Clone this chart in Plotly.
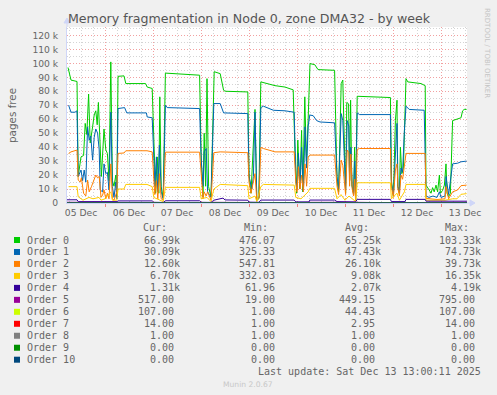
import plotly.graph_objects as go
import pandas as pd

# ---------------- data (hours since 05 Dec 2025 00:00, values in thousands of pages) ----------------
t0 = [5.5, 7, 10, 10.6, 12, 13.3, 14.1, 14.9, 15.8, 16.6,
      17.8, 18.6, 19.4, 20.1, 20.7, 21.5, 22.2, 23.5, 24.4, 25.2,
      26, 26.9, 27.7, 28.5, 29.4, 29.9, 30.5, 33.5, 34.4, 44.3,
      45.1, 47.6, 48.4, 49.3, 50.1, 50.9, 51.4, 52.1, 53.1, 54.2,
      71.3, 72.1, 73, 73.6, 74.3, 75, 75.8, 77, 78.6, 81.6,
      83.3, 84.1, 95.4, 96, 97, 98, 99, 99.9, 100.9, 101.9,
      109, 114, 118.1, 119, 119.8, 120.4, 121.4, 122.3, 122.9, 123.9,
      124.7, 125.5, 126.5, 128.9, 130.5, 138.8, 140, 140.8, 142.1, 142.9,
      143.8, 144.3, 144.9, 145.8, 146.3, 146.8, 147.4, 148.3, 148.8, 149.3,
      150.1, 166.7, 167.2, 168.2, 169.2, 170, 170.3, 171.2, 171.7, 172.4,
      173.2, 173.7, 174.5, 175.4, 182, 184.1, 184.5, 186.1, 187, 187.8,
      188.6, 189.5, 190.3, 191.2, 191.7, 192.8, 193.7, 194.5, 195, 195.8,
      196.7, 197.8, 200.3, 202, 202.8, 203.6, 204.8]
order0 = [97, 88, 87, 19, 33, 34, 57, 49, 78, 43,
          54.5, 63, 66, 56, 72, 45, 19, 53, 38, 35.5,
          16, 101, 16, 12, 20, 4.5, 90.7, 91, 85.5, 85.5,
          83, 82, 38, 7, 33, 7, 76, 11.7, 3.5, 93,
          91.5, 33, 4.5, 50, 12, 89, 11.7, 4.5, 94, 92.6,
          80.7, 80, 79.5, 21, 7, 40, 67, 2, 3, 86.7,
          84, 83, 81, 35.6, 7, 45, 10, 52, 8, 76,
          30, 57, 99.8, 99, 95.5, 95, 16.4, 8, 85.5, 88,
          20, 7, 72, 71, 16, 73.6, 13, 7, 40, 2,
          76.4, 75.5, 16.4, 4.5, 59, 73.6, 12, 7, 40, 21,
          25, 59, 89, 86.7, 85.5, 84, 12.8, 9.3, 7, 11,
          8, 12.8, 8, 20, 7, 9, 12.8, 28, 7, 4.5,
          7, 59, 60, 61, 66, 67, 67]

t1 = [5.8, 7, 9, 10, 10.6, 12, 12.8, 13.6, 14.4, 15.3,
      16.1, 16.9, 17.8, 18.6, 19.4, 20.3, 21.1, 21.6, 22.8, 23.5,
      24.4, 25.2, 26, 26.9, 27.7, 28.5, 29.4, 29.9, 30.5, 32.7,
      33.8, 34.9, 44.7, 45.1, 47.6, 48.4, 48.9, 49.7, 50.4, 51.2,
      52.1, 53.1, 54.2, 55.1, 71.3, 72.1, 73, 73.6, 74.6, 75.3,
      77, 78.4, 81.6, 83.3, 95.4, 96, 97.4, 98.2, 99, 99.9,
      101, 101.9, 103.2, 108.2, 114, 118.6, 119.4, 120, 120.7, 121.5,
      122.3, 123.2, 124, 124.8, 125.6, 126.4, 128.1, 129.8, 131.5, 138.8,
      140, 140.8, 142.1, 142.9, 143.8, 144.3, 145.1, 145.9, 146.3, 146.9,
      147.6, 148.3, 148.8, 149.3, 150.1, 151.3, 166.7, 167.2, 168.2, 169.2,
      170, 170.5, 171.2, 172, 172.8, 173.7, 174.5, 176.1, 183.6, 184.5,
      186, 188, 190, 191.2, 192, 194, 194.5, 195.8, 197.8, 200.3,
      202, 204.8]
order1 = [70, 65, 65, 66, 19, 23.6, 16, 23.6, 15, 54.5,
          45, 48, 30.7, 47, 53, 50, 38, 9.3, 8, 28,
          21, 22, 9.3, 65, 11.7, 4, 15, 3, 67.6, 68.3,
          68.3, 64.5, 64.5, 61.6, 61, 33, 12, 33, 8, 41.4,
          8, 3, 70, 68.3, 67.6, 30.7, 12, 36.6, 39, 8,
          4, 71.2, 71.2, 64.5, 64, 19, 10, 19, 65, 2,
          3.5, 68.3, 69.3, 66.4, 66, 65, 19, 10, 35.5, 12,
          40, 8, 54.5, 25, 55, 63, 62.5, 59, 58, 57.4,
          19, 10, 64, 59, 16, 10, 59, 55, 16, 40,
          12, 6, 30, 3, 64.5, 63.3, 63.3, 14, 6, 30,
          57, 12, 8, 25, 22, 52, 69.3, 67, 66.4, 5,
          4, 5, 4, 8, 4, 5, 19, 6, 28, 28.5,
          29.5, 30]

t2 = [5.8, 7, 10, 10.6, 11.6, 12.2, 13.3, 14.4, 15.3, 16.1,
      17.3, 18.6, 19.4, 20.3, 21.1, 22, 22.8, 23.5, 24.4, 25.2,
      26, 26.9, 27.7, 28.5, 29.9, 30.5, 33.5, 34.4, 45, 47.6,
      48.4, 48.9, 49.7, 50.4, 51.2, 52.1, 53.1, 54.2, 71.3, 72.1,
      73, 73.6, 74.6, 75.3, 77, 78.4, 81.6, 95.4, 96, 97,
      98, 99, 99.9, 101, 101.9, 103.2, 109, 118.6, 119.4, 120,
      120.7, 121.5, 122.3, 123.2, 124, 124.8, 125.6, 126.4, 138.8, 140,
      140.8, 142.1, 142.9, 143.8, 144.3, 145.1, 145.9, 146.3, 146.9, 147.6,
      148.3, 148.8, 149.3, 150.1, 151.3, 166.7, 167.2, 168.2, 169.2, 170,
      170.5, 171.2, 172, 172.8, 173.7, 174.5, 184.1, 184.5, 190, 194,
      194.5, 195.8, 197.8, 200.3, 202, 204.8]
order2 = [35.5, 36.6, 37.9, 16.4, 15, 18, 7, 5, 16.4, 8,
          12, 16.4, 20, 18, 19, 4, 5.7, 9.3, 3, 7,
          3, 28, 3, 2, 8, 35.5, 35.8, 37.4, 37.4, 36.6,
          18, 6, 16, 3, 21, 3, 2, 36.4, 36.4, 18,
          3, 8, 5, 8, 2, 36, 36.6, 36, 15, 7,
          13, 21, 2, 3.5, 39.8, 39, 36.6, 36.6, 15, 8,
          26, 10, 20, 8, 28, 12, 33, 34.3, 34.3, 12,
          6, 30.7, 27, 10, 6, 37.9, 36, 12, 35, 10,
          5, 17, 2, 38.4, 39, 39, 12, 4, 23.6, 28,
          10, 5, 20, 17, 28, 35.5, 35.5, 3.3, 2.5, 3,
          11.7, 3, 8, 9.3, 12.4, 12.8]

t3 = [5.8, 10, 10.6, 13, 16, 18, 21, 22, 24, 26.9,
      27.7, 29.9, 30.5, 33.5, 34.4, 45, 47.6, 48.4, 53.1, 54.2,
      71.3, 72.1, 75, 77, 78.4, 81.6, 95.4, 96, 99, 99.9,
      101.9, 103.2, 118.6, 119.4, 122, 124, 125.6, 126.4, 138.8, 140,
      142, 144, 146, 149.3, 150.1, 166.7, 167.2, 170, 171.2, 173.7,
      174.5, 184.1, 184.5, 194, 197.8, 200, 202, 204.8]
order3 = [11.7, 11.7, 4.5, 2, 4, 3, 4, 2, 3, 8,
          2, 2, 10, 10, 13.3, 13.3, 11.7, 4, 1, 11.2,
          11.2, 3, 4, 1, 10, 13.3, 12.4, 3, 5, 1,
          11.7, 13.3, 12.8, 4, 3, 6, 8, 10.5, 10.5, 3,
          6, 2, 5, 1, 14.5, 14.5, 3, 7, 2, 8,
          13.3, 13.3, 2, 2, 3, 3, 6.2, 6.7]

t4 = [5, 10, 10.6, 20, 30, 30.5, 47.6, 48.4, 53.1, 54.2,
      71.3, 72.1, 77, 78.4, 83, 84, 95.4, 96, 101, 101.9,
      118.6, 119.4, 126, 126.4, 138.8, 140, 149.3, 150.1, 166.7, 167.2,
      174, 174.5, 184.1, 184.5, 205]
order4 = [2.3, 2.3, 1.0, 0.8, 1.0, 1.5, 1.5, 0.5, 0.4, 1.6,
          1.6, 0.5, 0.4, 2.0, 3.5, 2.2, 2.0, 0.6, 0.5, 2.1,
          2.1, 0.8, 0.8, 2.1, 2.1, 1.0, 0.8, 2.6, 2.6, 1.0,
          1.0, 2.6, 2.6, 1.3, 1.3]

t5 = [5, 10.6, 30.5, 48.4, 54.2, 72.1, 78.4, 96, 101.9, 119.4,
      126.4, 140, 150.1, 167.2, 174.5, 184.5, 205]
order5 = [0.55, 0.5, 0.5, 0.2, 0.5, 0.2, 0.5, 0.2, 0.5, 0.2,
          0.5, 0.2, 0.5, 0.2, 0.5, 0.4, 0.52]

t_small = [5, 205]
order6 = [0.001, 0.107]
order7 = [0.001, 0.014]
order8 = [0.001, 0.001]
order9 = [0, 0]
order10 = [0, 0]

series_names = ["Order 0", "Order 1", "Order 2", "Order 3", "Order 4", "Order 5",
                "Order 6", "Order 7", "Order 8", "Order 9", "Order 10"]
series_times = [t0, t1, t2, t3, t4, t5, t_small, t_small, t_small, t_small, t_small]
series_values = [order0, order1, order2, order3, order4, order5,
                 order6, order7, order8, order9, order10]
colors = ["#00CC00", "#0066B3", "#FF8000", "#FFCC00", "#330099", "#990099",
          "#CCFF00", "#FF0000", "#808080", "#008F00", "#00487D"]

cur_vals = ["66.99k", "30.09k", "12.60k", "6.70k", "1.31k", "517.00", "107.00", "14.00", "1.00", "0.00", "0.00"]
min_vals = ["476.07", "325.33", "547.81", "332.03", "61.96", "19.00", "1.00", "1.00", "1.00", "0.00", "0.00"]
avg_vals = ["65.25k", "47.43k", "26.10k", "9.08k", "2.07k", "449.15", "44.43", "2.95", "1.00", "0.00", "0.00"]
max_vals = ["103.33k", "74.73k", "39.73k", "16.35k", "4.19k", "795.00", "107.00", "14.00", "1.00", "0.00", "0.00"]

day_labels = ["05 Dec", "06 Dec", "07 Dec", "08 Dec", "09 Dec", "10 Dec", "11 Dec", "12 Dec", "13 Dec"]
y_tick_values = [0, 10000, 20000, 30000, 40000, 50000, 60000, 70000, 80000, 90000, 100000, 110000, 120000]
y_tick_labels = ["0", "10 k", "20 k", "30 k", "40 k", "50 k", "60 k", "70 k", "80 k", "90 k", "100 k", "110 k", "120 k"]

title_text = "Memory fragmentation in Node 0, zone DMA32 - by week"
last_update = "Last update: Sat Dec 13 13:00:11 2025"

# ---------------- figure ----------------
BASE = pd.Timestamp("2025-12-05 00:00:00")


def to_time(hours):
    return [BASE + pd.Timedelta(hours=h) for h in hours]


X_START = BASE + pd.Timedelta(hours=5)
X_END = BASE + pd.Timedelta(hours=205)

W, H = 497, 395
PL, PR, PT, PB = 67, 467, 27, 203  # plot area in pixels


def px(x):
    return (x - PL) / (PR - PL)


def py(y):
    return (PB - y) / (PB - PT)


FONT = "DejaVu Sans"
MONO = "DejaVu Sans Mono"
TXT = "#666666"
AXIS = "#CFD6F8"

fig = go.Figure()
for name, t, v, c in zip(series_names, series_times, series_values, colors):
    fig.add_trace(go.Scatter(x=to_time(t), y=[val * 1000 for val in v], mode="lines",
                             name=name, line=dict(color=c, width=1), hoverinfo="skip"))

# invisible trace to carry the label axis
fig.add_trace(go.Scatter(x=[X_START, X_END], y=[0, 0], xaxis="x2", mode="lines",
                         line=dict(width=0), hoverinfo="skip", showlegend=False))

label_times = to_time([12 + 24 * i for i in range(len(day_labels))])

fig.update_layout(
    width=W, height=H, autosize=False,
    margin=dict(l=PL, r=W - PR, t=PT, b=H - PB, pad=0),
    paper_bgcolor="#F0F0F0", plot_bgcolor="#FFFFFF",
    showlegend=False,
    xaxis=dict(
        type="date", range=[X_START, X_END],
        tickmode="linear", tick0=BASE, dtick=86400000,
        showticklabels=False, ticks="outside", ticklen=3, tickcolor="#F08080",
        showgrid=True, gridcolor="#F2A0A0", griddash="1px,2px", gridwidth=1,
        minor=dict(dtick=6 * 3600000, tick0=BASE, showgrid=True, gridcolor="#D4D4D4",
                   griddash="1px,2px", ticks=""),
        showline=True, linecolor=AXIS, linewidth=1, zeroline=False, fixedrange=True,
    ),
    xaxis2=dict(
        type="date", range=[X_START, X_END], overlaying="x", anchor="y", side="bottom",
        tickmode="array", tickvals=label_times, ticktext=day_labels,
        ticks="", showgrid=False, showline=False, zeroline=False,
        tickfont=dict(family=FONT, size=9.2, color=TXT), ticklabelstandoff=3,
    ),
    yaxis=dict(
        range=[0, 126000], tickmode="array", tickvals=y_tick_values, ticktext=y_tick_labels,
        ticks="", showgrid=True, gridcolor="#F2A0A0", griddash="1px,2px", gridwidth=1,
        minor=dict(dtick=5000, showgrid=True, gridcolor="#D4D4D4", griddash="1px,2px", ticks=""),
        showline=True, linecolor=AXIS, linewidth=1, zeroline=False,
        tickfont=dict(family=FONT, size=9.2, color=TXT), ticklabelstandoff=6,
    ),
)

shapes = []
# axis arrows
shapes.append(dict(type="path", xref="paper", yref="paper",
                   path=f"M {px(PL)},{py(PT)} L {px(PL)},{py(PT - 5)}",
                   line=dict(color=AXIS, width=1)))
shapes.append(dict(type="path", xref="paper", yref="paper",
                   path=f"M {px(PL - 3)},{py(PT - 4)} L {px(PL)},{py(PT - 9)} L {px(PL + 3)},{py(PT - 4)} Z",
                   fillcolor=AXIS, line=dict(color=AXIS, width=1)))
shapes.append(dict(type="path", xref="paper", yref="paper",
                   path=f"M {px(PR)},{py(PB)} L {px(PR + 4)},{py(PB)}",
                   line=dict(color=AXIS, width=1)))
shapes.append(dict(type="path", xref="paper", yref="paper",
                   path=f"M {px(PR + 3)},{py(PB - 3)} L {px(PR + 8)},{py(PB)} L {px(PR + 3)},{py(PB + 3)} Z",
                   fillcolor=AXIS, line=dict(color=AXIS, width=1)))

annotations = []
annotations.append(dict(text=title_text, x=px(249), y=py(18), xref="paper", yref="paper",
                        showarrow=False, xanchor="center", yanchor="middle",
                        font=dict(family=FONT, size=12.6, color="#555555")))
annotations.append(dict(text="pages free", x=px(12), y=py(115), xref="paper", yref="paper",
                        showarrow=False, textangle=-90, xanchor="center", yanchor="middle",
                        font=dict(family=FONT, size=10.4, color=TXT)))
annotations.append(dict(text="RRDTOOL / TOBI OETIKER", x=px(487), y=py(53), xref="paper", yref="paper",
                        showarrow=False, textangle=90, xanchor="center", yanchor="middle",
                        font=dict(family=FONT, size=7, color="#C4C4C4")))

# legend table
COL_RIGHT = [181, 282, 381.7, 482.3]
HEAD_RIGHT = [168, 269, 370, 470]
headers = ["Cur:", "Min:", "Avg:", "Max:"]
HEAD_Y = 227.7
ROW0_Y = 240.0
ROW_DY = 11.97
CHAR_W = 6.02

for h, xr in zip(headers, HEAD_RIGHT):
    annotations.append(dict(text=h, x=px(xr), y=py(HEAD_Y), xref="paper", yref="paper",
                            showarrow=False, xanchor="right", yanchor="middle", borderpad=0,
                            font=dict(family=MONO, size=10, color=TXT)))

for i, name in enumerate(series_names):
    ry = ROW0_Y + ROW_DY * i
    shapes.append(dict(type="rect", xref="paper", yref="paper",
                       x0=px(14), x1=px(20), y0=py(ry + 3), y1=py(ry - 3),
                       fillcolor=colors[i], line=dict(width=0)))
    annotations.append(dict(text=name, x=px(26), y=py(ry), xref="paper", yref="paper",
                            showarrow=False, xanchor="left", yanchor="middle", borderpad=0,
                            font=dict(family=MONO, size=10, color=TXT)))
    for col, vals in enumerate([cur_vals, min_vals, avg_vals, max_vals]):
        s = vals[i]
        xr = COL_RIGHT[col] - (0 if s.endswith("k") else CHAR_W)
        annotations.append(dict(text=s, x=px(xr), y=py(ry), xref="paper", yref="paper",
                                showarrow=False, xanchor="right", yanchor="middle", borderpad=0,
                                font=dict(family=MONO, size=10, color=TXT)))

annotations.append(dict(text=last_update, x=px(482.3), y=py(371.7), xref="paper", yref="paper",
                        showarrow=False, xanchor="right", yanchor="middle", borderpad=0,
                        font=dict(family=MONO, size=10, color=TXT)))
annotations.append(dict(text="Munin 2.0.67", x=px(248), y=py(384), xref="paper", yref="paper",
                        showarrow=False, xanchor="center", yanchor="middle", borderpad=0,
                        font=dict(family=FONT, size=7.6, color="#C8C8C8")))

fig.update_layout(shapes=shapes, annotations=annotations)

fig.write_html("out.html", config={"displayModeBar": False, "staticPlot": True},
               post_script="document.body.style.margin='0px';document.body.style.overflow='hidden';")
